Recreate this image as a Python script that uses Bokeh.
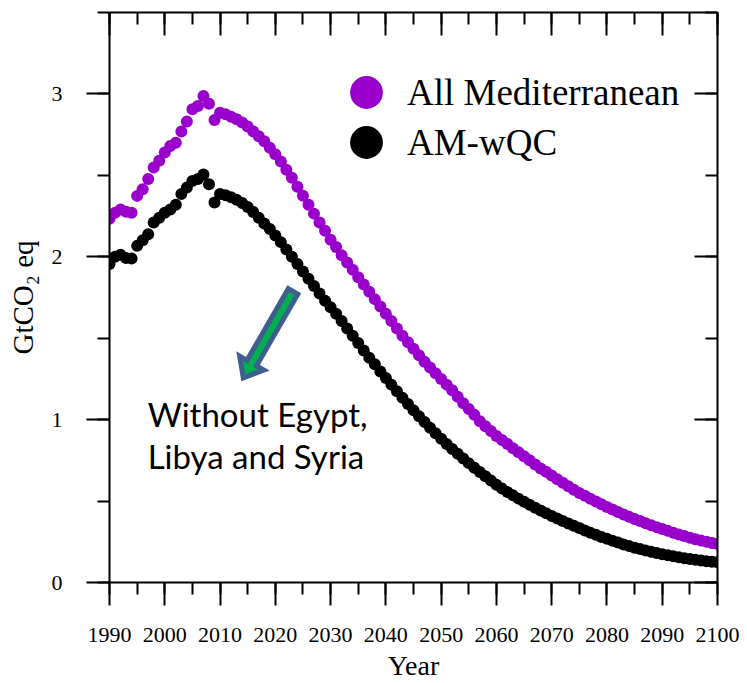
from bokeh.plotting import figure
from bokeh.models import (LinearAxis, SingleIntervalTicker, Legend, LegendItem,
                          Label, ColumnDataSource)
from bokeh.embed import file_html
from bokeh.resources import INLINE

# Annual emissions, GtCO2 eq
years = list(range(1990, 2101))

all_mediterranean = [
    2.233, 2.270, 2.290, 2.276, 2.270, 2.374, 2.415, 2.477, 2.548, 2.589,
    2.640, 2.680, 2.700, 2.770, 2.830, 2.906, 2.926, 2.988, 2.940, 2.840,
    2.885, 2.875, 2.860, 2.845, 2.825, 2.800, 2.770, 2.740, 2.710, 2.670,
    2.630, 2.585, 2.535, 2.485, 2.430, 2.375, 2.320, 2.265, 2.210, 2.160,
    2.105, 2.060, 2.010, 1.965, 1.920, 1.875, 1.830, 1.785, 1.740, 1.695,
    1.650, 1.605, 1.560, 1.515, 1.475, 1.435, 1.395, 1.355, 1.320, 1.285,
    1.250, 1.215, 1.180, 1.140, 1.100, 1.065, 1.030, 0.990, 0.960, 0.930,
    0.900, 0.875, 0.850, 0.825, 0.800, 0.775, 0.750, 0.725, 0.700, 0.680,
    0.657, 0.634, 0.612, 0.591, 0.570, 0.550, 0.532, 0.514, 0.497, 0.480,
    0.464, 0.448, 0.433, 0.418, 0.404, 0.390, 0.377, 0.364, 0.352, 0.340,
    0.328, 0.317, 0.306, 0.295, 0.285, 0.275, 0.266, 0.258, 0.250, 0.243,
    0.236,
]

am_wqc = [
    1.955, 2.000, 2.012, 1.992, 1.990, 2.067, 2.102, 2.139, 2.210, 2.240,
    2.270, 2.290, 2.320, 2.385, 2.425, 2.466, 2.477, 2.505, 2.446, 2.333,
    2.385, 2.378, 2.365, 2.350, 2.330, 2.305, 2.275, 2.240, 2.205, 2.170,
    2.130, 2.090, 2.045, 2.000, 1.955, 1.910, 1.865, 1.820, 1.775, 1.730,
    1.690, 1.650, 1.605, 1.560, 1.515, 1.470, 1.425, 1.380, 1.340, 1.295,
    1.255, 1.215, 1.175, 1.135, 1.096, 1.058, 1.021, 0.985, 0.950, 0.916,
    0.883, 0.851, 0.820, 0.790, 0.761, 0.733, 0.705, 0.678, 0.652, 0.626,
    0.600, 0.577, 0.555, 0.535, 0.515, 0.496, 0.477, 0.459, 0.442, 0.425,
    0.409, 0.393, 0.378, 0.363, 0.349, 0.335, 0.320, 0.306, 0.293, 0.280,
    0.268, 0.256, 0.245, 0.234, 0.224, 0.214, 0.205, 0.197, 0.189, 0.181,
    0.174, 0.167, 0.161, 0.155, 0.149, 0.144, 0.139, 0.135, 0.131, 0.127,
    0.124,
]

series_names = ["All Mediterranean", "AM-wQC"]
note_lines = ["Without Egypt,", "Libya and Syria"]

X0, X1 = 1990, 2100
Y0, Y1 = 0, 3.5
W, H = 747, 683
BL, BR, BT, BB = 109, 30, 12, 101
FW, FH = W - BL - BR, H - BT - BB
PX_X = FW / (X1 - X0)   # pixels per year
PX_Y = FH / (Y1 - Y0)   # pixels per GtCO2 eq

SERIF = "Liberation Serif"
PURPLE = "#9900cc"

p = figure(width=W, height=H, x_range=(X0, X1), y_range=(Y0, Y1),
           output_backend="svg", toolbar_location=None,
           x_axis_location=None, y_axis_location=None,
           min_border_left=BL, min_border_right=BR,
           min_border_top=BT, min_border_bottom=BB)
p.grid.visible = False
p.outline_line_color = None
p.background_fill_color = "white"
p.border_fill_color = "white"

xt = SingleIntervalTicker(interval=10, num_minor_ticks=2)
yt = SingleIntervalTicker(interval=1, num_minor_ticks=2)


def style_axis(ax, outward, labels):
    ax.axis_line_width = 2
    ax.major_tick_line_width = 2
    ax.minor_tick_line_width = 2
    ax.axis_line_color = "black"
    ax.major_tick_line_color = "black"
    ax.minor_tick_line_color = "black"
    if outward:
        ax.major_tick_out, ax.major_tick_in = 23, 0
        ax.minor_tick_out, ax.minor_tick_in = 12, 0
    else:
        ax.major_tick_out, ax.major_tick_in = 0, 23
        ax.minor_tick_out, ax.minor_tick_in = 0, 12
    if labels:
        ax.major_label_text_font = SERIF
        ax.major_label_text_font_size = "22px"
        ax.major_label_text_color = "black"
        ax.axis_label_text_font = SERIF
        ax.axis_label_text_font_size = "28px"
        ax.axis_label_text_font_style = "normal"
        ax.axis_label_text_color = "black"
    else:
        ax.major_label_text_color = None
        ax.major_label_text_font_size = "0px"
        ax.major_label_standoff = 0


bottom = LinearAxis(ticker=xt, axis_label="Year")
style_axis(bottom, True, True)
bottom.major_label_standoff = 22
bottom.axis_label_standoff = 5
p.add_layout(bottom, "below")

left = LinearAxis(ticker=yt, axis_label="GtCO\u2082 eq")
style_axis(left, True, True)
left.major_label_standoff = 24
left.axis_label_standoff = 10
left.axis_label_text_font_size = "29px"
p.add_layout(left, "left")

top = LinearAxis(ticker=xt)
style_axis(top, False, False)
p.add_layout(top, "above")

right = LinearAxis(ticker=yt)
style_axis(right, False, False)
p.add_layout(right, "right")

src = ColumnDataSource(dict(year=years, am=all_mediterranean, wqc=am_wqc))
r_am = p.scatter("year", "am", source=src, size=12, fill_color=PURPLE,
                 line_color=None)
r_wqc = p.scatter("year", "wqc", source=src, size=12, fill_color="black",
                  line_color=None)

# one legend box per entry so the two rows sit close together
for name, rend, loc in [(series_names[0], r_am, (216, 449)),
                        (series_names[1], r_wqc, (216, 399))]:
    p.add_layout(Legend(items=[LegendItem(label=name, renderers=[rend])],
                        location=loc, glyph_width=82, glyph_height=82,
                        padding=0, margin=0, label_standoff=0,
                        border_line_color=None, background_fill_alpha=0,
                        label_text_font=SERIF, label_text_font_size="37px",
                        label_text_color="black"))

# Block arrow pointing down towards the note
tip_x, tip_y = 2014.2, 1.257
length, head_len, head_half, shaft_half = 99.6, 17.0, 14.0, 5.5
bx, by = 0.5, 0.866      # back direction (screen px, y up)
nx, ny = 0.866, -0.5     # perpendicular (screen px, y up)
pts = [(0, 0), (head_len, head_half), (head_len, shaft_half),
       (length, shaft_half), (length, -shaft_half), (head_len, -shaft_half),
       (head_len, -head_half)]
ax_pts = [tip_x + (a * bx + b * nx) / PX_X for a, b in pts]
ay_pts = [tip_y + (a * by + b * ny) / PX_Y for a, b in pts]
p.patch(ax_pts, ay_pts, fill_color="#00b050", line_color="#3e5f8e",
        line_width=5, line_join="miter")

for txt, yy in zip(note_lines, [1.032, 0.774]):
    p.add_layout(Label(x=1996.9, y=yy, text=txt, text_font="Lato",
                       text_font_size="33px", text_color="black",
                       text_baseline="alphabetic", text_align="left"))

open("out.html", "w").write(file_html(p, INLINE))
